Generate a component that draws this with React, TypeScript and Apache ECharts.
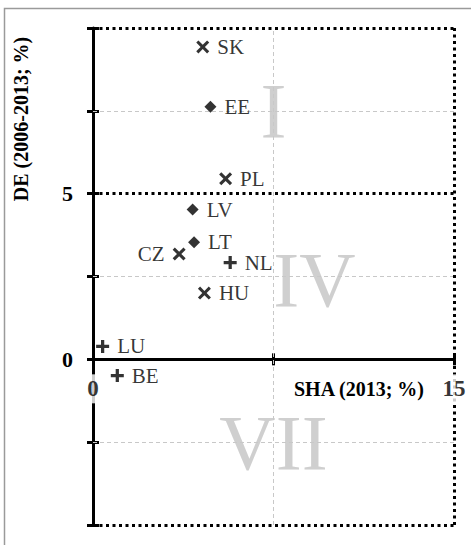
import React, { useEffect, useRef } from "react";
import * as echarts from "echarts";

const FONT = "Liberation Serif, Times New Roman, serif";

// Data
const crossNames = ["SK", "PL", "CZ", "HU"];
const crossSha = [4.56, 5.51, 3.58, 4.63];
const crossDe = [9.43, 5.45, 3.18, 2.0];

const diamondNames = ["EE", "LV", "LT"];
const diamondSha = [4.88, 4.14, 4.2];
const diamondDe = [7.62, 4.52, 3.53];

const plusNames = ["NL", "LU", "BE"];
const plusSha = [5.7, 0.4, 1.01];
const plusDe = [2.92, 0.39, -0.49];

const quadrantNames = ["I", "IV", "VII"];
const quadrantX = [7.5, 9.2, 7.5];
const quadrantY = [7.5, 2.4, -2.5];

const xTickValues = [0, 15];
const xTickTexts = ["0", "15"];
const yTickLabels: Record<string, string> = { "0": "0", "5": "5" };

const xName = "SHA (2013; %)";
const yName = "DE (2006-2013; %)";

const dottedY = [10, 5, -5];
const dottedX = [15];
const grayY = [7.5, 2.5, -2.5];
const grayX = [7.5];

const CROSS =
  "path://M0,2 L2,0 L6,4 L10,0 L12,2 L8,6 L12,10 L10,12 L6,8 L2,12 L0,10 L4,6 Z";
const PLUS =
  "path://M4.5,0 H7.5 V4.5 H12 V7.5 H7.5 V12 H4.5 V7.5 H0 V4.5 H4.5 Z";

function pts(names: string[], xs: number[], ys: number[], leftNames: string[] = []) {
  return names.map((n, i) => ({
    name: n,
    value: [xs[i], ys[i]],
    label: leftNames.includes(n) ? { position: "left" } : undefined,
  }));
}

const pointLabel = {
  show: true,
  position: "right",
  distance: 8,
  formatter: "{b}",
  color: "#000",
  fontSize: 21,
  fontFamily: FONT,
};

export default function App() {
  const ref = useRef<HTMLDivElement>(null);
  useEffect(() => {
    document.body.style.margin = "0";
    if (!ref.current) return;
    const chart = echarts.init(ref.current, undefined, { renderer: "svg" });
    const axisBase = {
      type: "value",
      splitLine: { show: false },
    };
    chart.setOption({
      animation: false,
      backgroundColor: "#fff",
      grid: {
        left: 93,
        right: 17,
        top: 28,
        bottom: 20,
        containLabel: false,
        outerBoundsMode: "none",
      },
      xAxis: [
        {
          ...axisBase,
          min: 0,
          max: 15,
          interval: 7.5,
          position: "bottom",
          axisLine: { show: true, onZero: true, lineStyle: { color: "#000", width: 3 } },
          axisTick: { show: true, length: 6, lineStyle: { color: "#000", width: 3 } },
          axisLabel: { show: false },
        },
        {
          ...axisBase,
          min: 0,
          max: 15,
          interval: 7.5,
          position: "bottom",
          axisLine: { show: false, onZero: true },
          axisTick: { show: true, inside: true, length: 6, lineStyle: { color: "#000", width: 3 } },
          axisLabel: { show: false },
        },
      ],
      yAxis: [
        {
          ...axisBase,
          min: -5,
          max: 10,
          interval: 2.5,
          position: "left",
          axisLine: { show: true, onZero: true, lineStyle: { color: "#000", width: 3 } },
          axisTick: { show: true, length: 6, lineStyle: { color: "#000", width: 3 } },
          axisLabel: {
            show: true,
            margin: 20,
            color: "#000",
            fontSize: 22,
            fontWeight: "bold",
            fontFamily: FONT,
            formatter: (v: number) => yTickLabels[String(v)] ?? "",
          },
        },
        {
          ...axisBase,
          min: -5,
          max: 10,
          interval: 2.5,
          position: "left",
          axisLine: { show: false, onZero: true },
          axisTick: { show: true, inside: true, length: 6, lineStyle: { color: "#000", width: 3 } },
          axisLabel: { show: false },
        },
      ],
      graphic: [
        {
          type: "rect",
          shape: { x: 4.5, y: 8.5, width: 800, height: 800 },
          style: { fill: "none", stroke: "#9a9a9a", lineWidth: 1.5 },
          silent: true,
          z: -10,
        },
        {
          type: "text",
          x: 21,
          y: 119,
          rotation: Math.PI / 2,
          style: {
            text: yName,
            fill: "#000",
            font: `bold 20px ${FONT}`,
            align: "center",
            verticalAlign: "middle",
          },
        },
        {
          type: "text",
          x: 359,
          y: 389,
          style: {
            text: xName,
            fill: "#000",
            font: `bold 20px ${FONT}`,
            align: "center",
            verticalAlign: "middle",
          },
        },
      ],
      series: [
        {
          type: "scatter",
          name: "lines",
          xAxisIndex: 0,
          yAxisIndex: 0,
          data: [],
          z: 1,
          markLine: {
            silent: true,
            symbol: "none",
            label: { show: false },
            data: [
              ...grayY.map((v) => ({
                yAxis: v,
                lineStyle: { color: "#c8c8c8", type: [4, 3], width: 1 },
              })),
              ...grayX.map((v) => ({
                xAxis: v,
                lineStyle: { color: "#c8c8c8", type: [4, 3], width: 1 },
              })),
              ...dottedY.map((v) => ({
                yAxis: v,
                lineStyle: { color: "#000", type: [3, 3.5], width: 3 },
              })),
              ...dottedX.map((v) => ({
                xAxis: v,
                lineStyle: { color: "#000", type: [3, 3.5], width: 3 },
              })),
            ],
          },
        },
        {
          type: "scatter",
          name: "xTicks",
          symbolSize: 0,
          silent: true,
          z: 6,
          data: xTickValues.map((v, i) => ({ name: xTickTexts[i], value: [v, 0] })),
          label: {
            show: true,
            position: "bottom",
            distance: 15,
            formatter: "{b}",
            color: "#000",
            fontSize: 23,
            fontWeight: "bold",
            fontFamily: FONT,
            backgroundColor: "#fff",
            padding: [3, 1, 3, 1],
          },
        },
        {
          type: "scatter",
          name: "quadrants",
          symbolSize: 0,
          z: 2,
          silent: true,
          data: quadrantNames.map((n, i) => ({ name: n, value: [quadrantX[i], quadrantY[i]] })),
          label: {
            show: true,
            position: "inside",
            formatter: "{b}",
            color: "#c3c3c3",
            fontSize: 78,
            fontFamily: FONT,
          },
        },
        {
          type: "scatter",
          name: "cross",
          symbol: CROSS,
          symbolSize: 13,
          itemStyle: { color: "#000" },
          z: 5,
          data: pts(crossNames, crossSha, crossDe, ["CZ"]),
          label: pointLabel,
        },
        {
          type: "scatter",
          name: "diamond",
          symbol: "diamond",
          symbolSize: 12,
          itemStyle: { color: "#000" },
          z: 5,
          data: pts(diamondNames, diamondSha, diamondDe),
          label: pointLabel,
        },
        {
          type: "scatter",
          name: "plus",
          symbol: PLUS,
          symbolSize: 13,
          itemStyle: { color: "#000" },
          z: 5,
          data: pts(plusNames, plusSha, plusDe),
          label: pointLabel,
        },
      ],
    });
    return () => chart.dispose();
  }, []);
  return <div ref={ref} style={{ width: 471, height: 545 }} />;
}
